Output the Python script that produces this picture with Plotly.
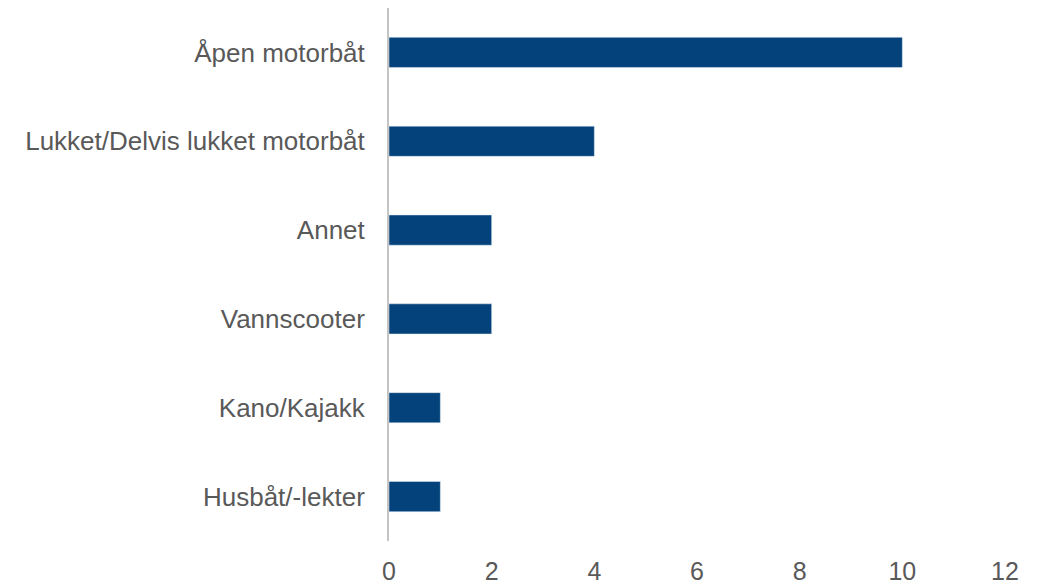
import plotly.graph_objects as go

# Båttyper og antall
categories = ["Åpen motorbåt", "Lukket/Delvis lukket motorbåt", "Annet",
              "Vannscooter", "Kano/Kajakk", "Husbåt/-lekter"]
values = [10, 4, 2, 2, 1, 1]
x_ticks = [0, 2, 4, 6, 8, 10, 12]

fig = go.Figure(go.Bar(
    x=values, y=categories, orientation="h",
    marker=dict(color="#03427A"),
    width=0.34,
))

# page has an 8px body margin, so the figure is a bit smaller than the window
fig.update_layout(
    width=1040, height=577,
    margin=dict(l=381, r=43, t=0, b=44),
    plot_bgcolor="white", paper_bgcolor="white",
    font=dict(family="Liberation Sans, Arial, sans-serif", color="#595959"),
    showlegend=False,
)
fig.update_yaxes(
    autorange="reversed", showgrid=False, automargin=False,
    showline=True, linecolor="#C4C4C4", linewidth=2,
    ticks="outside", ticklen=17, tickcolor="rgba(0,0,0,0)",
    tickfont=dict(size=26),
)
fig.update_xaxes(
    range=[0, 12], tickvals=x_ticks, showgrid=False, zeroline=False,
    automargin=False,
    showline=False, ticks="outside", ticklen=8, tickcolor="rgba(0,0,0,0)",
    tickfont=dict(size=25),
)

fig.write_html("out.html")
